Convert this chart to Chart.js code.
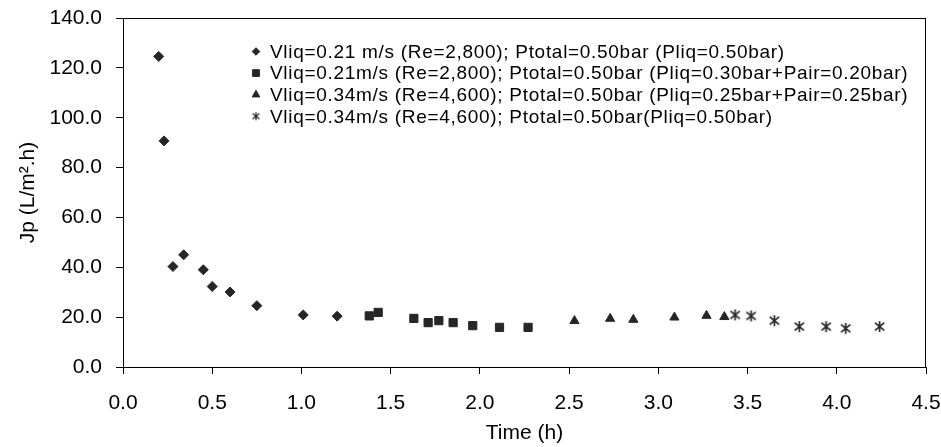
<!DOCTYPE html>
<html>
<head>
<meta charset="utf-8">
<script src="https://cdn.jsdelivr.net/npm/chart.js@4"></script>
<style>
  html, body { margin: 0; padding: 0; background: #fff; }
  #wrap { width: 941px; height: 447px; }
</style>
</head>
<body>
<div id="wrap"><canvas id="c" width="941" height="447"></canvas></div>
<script>
// ---- data ----
const seriesLabels = [
  "Vliq=0.21 m/s (Re=2,800); Ptotal=0.50bar (Pliq=0.50bar)",
  "Vliq=0.21m/s (Re=2,800); Ptotal=0.50bar (Pliq=0.30bar+Pair=0.20bar)",
  "Vliq=0.34m/s (Re=4,600); Ptotal=0.50bar (Pliq=0.25bar+Pair=0.25bar)",
  "Vliq=0.34m/s (Re=4,600); Ptotal=0.50bar(Pliq=0.50bar)"
];
const timeDiamond  = [0.20, 0.23, 0.28, 0.34, 0.45, 0.50, 0.60, 0.75, 1.01, 1.20];
const jpDiamond    = [124.6, 90.7, 40.3, 45.0, 39.0, 32.3, 30.1, 24.6, 20.9, 20.4];
const timeSquare   = [1.38, 1.43, 1.63, 1.71, 1.77, 1.85, 1.96, 2.11, 2.27];
const jpSquare     = [20.5, 21.9, 19.5, 17.8, 18.6, 17.8, 16.6, 15.9, 15.9];
const timeTriangle = [2.53, 2.73, 2.86, 3.09, 3.27, 3.37];
const jpTriangle   = [18.5, 19.4, 19.0, 19.9, 20.6, 20.1];
const timeStar     = [3.43, 3.52, 3.65, 3.79, 3.94, 4.05, 4.24];
const jpStar       = [20.9, 20.5, 18.6, 16.2, 16.2, 15.5, 16.2];
const xTitle = "Time (h)";
const yTitle = "Jp (L/m\u00B2.h)";

const INK = '#262626';
const FONT = "'Liberation Sans', Arial, sans-serif";

function pts(xs, ys) { return xs.map((x, i) => ({ x: x, y: ys[i] })); }

// asterisk marker (× with a vertical bar)
function makeAsterisk(size, lw) {
  const c = document.createElement('canvas');
  c.width = size; c.height = size;
  const g = c.getContext('2d');
  const m = size / 2, r = size / 2 - 1;
  g.strokeStyle = INK; g.lineWidth = lw; g.lineCap = 'butt';
  g.beginPath();
  g.moveTo(m, m - r); g.lineTo(m, m + r);
  g.moveTo(m - r * 0.85, m - r * 0.7); g.lineTo(m + r * 0.85, m + r * 0.7);
  g.moveTo(m + r * 0.85, m - r * 0.7); g.lineTo(m - r * 0.85, m + r * 0.7);
  g.stroke();
  return c;
}
const starBig = makeAsterisk(13, 1.7);
const starSmall = makeAsterisk(10, 1.2);

function ds(label, data, style, r) {
  return {
    label: label, data: data, showLine: false,
    pointStyle: style, pointRadius: r, pointHoverRadius: r,
    backgroundColor: INK, borderColor: INK, borderWidth: 1
  };
}

const frameAndLegend = {
  id: 'frameAndLegend',
  afterDraw(chart) {
    const ctx = chart.ctx, a = chart.chartArea;
    ctx.save();
    ctx.strokeStyle = '#000'; ctx.lineWidth = 1;
    ctx.strokeRect(Math.round(a.left) + 0.5, Math.round(a.top) + 0.5,
                   Math.round(a.right - a.left) - 1, Math.round(a.bottom - a.top));
    // legend inside plot
    const styles = ['rectRot', 'rect', 'triangle', starSmall];
    const radii = [3.8, 4.8, 4.4, 4];
    const x0 = 256, tx = 270, y0 = 52.5, dy = 21.6;
    ctx.font = '19px ' + FONT;
    ctx.fillStyle = '#000';
    ctx.textAlign = 'left';
    ctx.textBaseline = 'middle';
    if ('letterSpacing' in ctx) ctx.letterSpacing = '0.7px';
    chart.data.datasets.forEach((d, i) => {
      const y = y0 + i * dy;
      ctx.save();
      ctx.fillStyle = INK; ctx.strokeStyle = INK; ctx.lineWidth = 1;
      Chart.helpers.drawPoint(ctx, { pointStyle: styles[i], radius: radii[i], rotation: 0, borderWidth: 1 }, x0, y - 1);
      ctx.restore();
      ctx.fillText(d.label, tx, y);
    });
    ctx.restore();
  }
};

const tickFont = { family: FONT, size: 21 };

new Chart(document.getElementById('c'), {
  type: 'scatter',
  data: {
    datasets: [
      ds(seriesLabels[0], pts(timeDiamond, jpDiamond), 'rectRot', 5),
      ds(seriesLabels[1], pts(timeSquare, jpSquare), 'rect', 5.8),
      ds(seriesLabels[2], pts(timeTriangle, jpTriangle), 'triangle', 5.3),
      ds(seriesLabels[3], pts(timeStar, jpStar), starBig, 6)
    ]
  },
  options: {
    responsive: false,
    animation: false,
    events: [],
    layout: { padding: { left: 0, right: 15, top: 18, bottom: 0 } },
    plugins: { legend: { display: false }, tooltip: { enabled: false } },
    scales: {
      x: {
        type: 'linear', min: 0, max: 4.5,
        afterFit(s) { s.height = 80; s.paddingLeft = 0; s.paddingRight = 0; },
        ticks: { stepSize: 0.5, color: '#000', font: tickFont, padding: 17, maxRotation: 0,
                 callback: v => Number(v).toFixed(1) },
        grid: { drawOnChartArea: false, drawTicks: true, tickLength: 7, color: '#000' },
        border: { display: true, color: '#000', width: 1 },
        title: { display: true, text: xTitle, color: '#000', font: tickFont, padding: { top: 0, bottom: 1 } }
      },
      y: {
        min: 0, max: 140,
        afterFit(s) { s.width = 123; s.paddingTop = 0; s.paddingBottom = 0; },
        ticks: { stepSize: 20, color: '#000', font: tickFont, padding: 14,
                 callback: v => Number(v).toFixed(1) },
        grid: { drawOnChartArea: false, drawTicks: true, tickLength: 7, color: '#000' },
        border: { display: true, color: '#000', width: 1 },
        title: { display: true, text: yTitle, color: '#000', font: tickFont, padding: { top: 16, bottom: 0 } }
      }
    }
  },
  plugins: [frameAndLegend]
});
</script>
</body>
</html>
